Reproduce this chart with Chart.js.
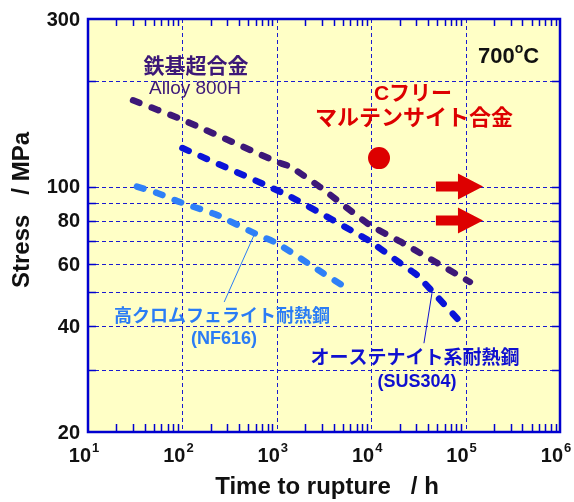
<!DOCTYPE html>
<html>
<head>
<meta charset="utf-8">
<script src="https://cdn.jsdelivr.net/npm/chart.js@4"></script>
<style>
  html, body { margin: 0; padding: 0; background: #fff; }
  #wrap { width: 574px; height: 502px; }
</style>
</head>
<body>
<div id="wrap"><canvas id="rupture"></canvas></div>
<script>
// --- data ---
const alloy800hTime = [30, 100, 1000, 1380, 2870, 9250, 21700, 111000];
const alloy800hStress = [176, 155, 117.6, 114, 99.7, 78.3, 69, 53.5];

const sus304Time = [100, 1283, 9250, 20200, 30500, 45200, 93800];
const sus304Stress = [128.7, 94.6, 70.4, 60.6, 56, 50, 40.4];

const nf616Time = [33, 54, 88, 143, 233, 632, 1000, 3080, 5270];
const nf616Stress = [100, 95.9, 90.9, 86.9, 83, 72.8, 69, 56.7, 51.8];

const cFreeTime = [12100];
const cFreeStress = [120.5];

// arrows: still running
const arrowStress = [100, 80];
const arrowFrom = 48500;
const arrowHead = 83000;
const arrowTo = 153000;

const timeDecades = [1, 2, 3, 4, 5, 6];
const stressGrid = [30, 40, 50, 60, 70, 80, 90, 100, 200];
const stressLabels = [20, 40, 60, 80, 100, 300];

// leader lines [fromTime, fromStress, toTime, toStress]
const nf616Leader = [277, 46.9, 588, 73.8];
const sus304Leader = [36200, 35.8, 44000, 49.7];

const FONT = '"Liberation Sans", Arial, "Noto Sans CJK JP", sans-serif';
const GRID_BLUE = '#1a1ad0';
const FRAME_BLUE = '#0000d0';

function pts(xs, ys) {
    return xs.map((x, i) => ({ x: x, y: ys[i] }));
}

const chartPlugin = {
    id: 'ruptureDeco',
    beforeDatasetsDraw(chart) {
        const { ctx, chartArea: a, scales } = chart;
        const x = scales.x, y = scales.y;
        ctx.save();
        ctx.fillStyle = '#ffffc6';
        ctx.fillRect(a.left, a.top, a.right - a.left, a.bottom - a.top);

        // dashed grid
        ctx.strokeStyle = GRID_BLUE;
        ctx.lineWidth = 1;
        ctx.setLineDash([4, 3]);
        stressGrid.forEach(v => {
            const py = Math.round(y.getPixelForValue(v)) + 0.5;
            ctx.beginPath(); ctx.moveTo(a.left, py); ctx.lineTo(a.right, py); ctx.stroke();
        });
        timeDecades.slice(1, -1).forEach(d => {
            const px = Math.round(x.getPixelForValue(Math.pow(10, d))) + 0.5;
            ctx.beginPath(); ctx.moveTo(px, a.top); ctx.lineTo(px, a.bottom); ctx.stroke();
        });
        ctx.setLineDash([]);

        // minor ticks inward on top/bottom
        ctx.lineWidth = 1.5;
        ctx.strokeStyle = FRAME_BLUE;
        for (let d = 1; d < 6; d++) {
            for (let m = 2; m <= 9; m++) {
                const px = Math.round(x.getPixelForValue(m * Math.pow(10, d))) + 0.5;
                ctx.beginPath();
                ctx.moveTo(px, a.bottom); ctx.lineTo(px, a.bottom - 8);
                ctx.moveTo(px, a.top); ctx.lineTo(px, a.top + 7);
                ctx.stroke();
            }
        }
        // left/right ticks
        stressGrid.forEach(v => {
            const py = Math.round(y.getPixelForValue(v)) + 0.5;
            ctx.beginPath();
            ctx.moveTo(a.left, py); ctx.lineTo(a.left + 8, py);
            ctx.moveTo(a.right, py); ctx.lineTo(a.right - 8, py);
            ctx.stroke();
        });
        ctx.restore();
    },
    afterDatasetsDraw(chart) {
        const { ctx, chartArea: a, scales } = chart;
        const x = scales.x, y = scales.y;
        ctx.save();

        // red arrows
        ctx.fillStyle = '#dd0000';
        arrowStress.forEach(s => {
            const py = y.getPixelForValue(s);
            const x0 = x.getPixelForValue(arrowFrom);
            const xh = x.getPixelForValue(arrowHead);
            const x1 = x.getPixelForValue(arrowTo);
            ctx.beginPath();
            ctx.moveTo(x0, py - 5); ctx.lineTo(xh, py - 5); ctx.lineTo(xh, py - 13);
            ctx.lineTo(x1, py); ctx.lineTo(xh, py + 13); ctx.lineTo(xh, py + 5);
            ctx.lineTo(x0, py + 5); ctx.closePath(); ctx.fill();
        });

        // leader lines
        ctx.lineWidth = 1;
        [[nf616Leader, '#2a7cf5'], [sus304Leader, '#1010d0']].forEach(([l, c]) => {
            ctx.strokeStyle = c;
            ctx.beginPath();
            ctx.moveTo(x.getPixelForValue(l[0]), y.getPixelForValue(l[1]));
            ctx.lineTo(x.getPixelForValue(l[2]), y.getPixelForValue(l[3]));
            ctx.stroke();
        });

        // frame
        ctx.strokeStyle = FRAME_BLUE;
        ctx.lineWidth = 2.5;
        ctx.strokeRect(a.left, a.top, a.right - a.left, a.bottom - a.top);

        // y tick labels
        ctx.fillStyle = '#111';
        ctx.font = 'bold 20px ' + FONT;
        ctx.textAlign = 'right';
        ctx.textBaseline = 'middle';
        stressLabels.forEach(v => {
            ctx.fillText(String(v), a.left - 8, y.getPixelForValue(v) + 1);
        });

        // x tick labels 10^n
        ctx.textBaseline = 'alphabetic';
        timeDecades.forEach(d => {
            const px = x.getPixelForValue(Math.pow(10, d));
            ctx.font = 'bold 20px ' + FONT;
            ctx.textAlign = 'right';
            ctx.fillText('10', px + 3, 462);
            ctx.font = 'bold 13px ' + FONT;
            ctx.textAlign = 'left';
            ctx.fillText(String(d), px + 4, 452);
        });

        // axis titles
        ctx.font = 'bold 24px ' + FONT;
        ctx.textAlign = 'center';
        ctx.fillText('Time to rupture   / h', 327, 494);
        ctx.save();
        ctx.translate(29, 210);
        ctx.rotate(-Math.PI / 2);
        ctx.textBaseline = 'alphabetic';
        ctx.fillText('Stress   / MPa', 0, 0);
        ctx.restore();

        // annotations
        ctx.textBaseline = 'middle';
        ctx.textAlign = 'center';
        ctx.fillStyle = '#3d1878';
        ctx.font = 'bold 21px ' + FONT;
        ctx.fillText('鉄基超合金', 196, 67);
        ctx.font = '19px ' + FONT;
        ctx.fillText('Alloy 800H', 195, 89);

        ctx.fillStyle = '#dd0000';
        ctx.font = 'bold 21px ' + FONT;
        ctx.fillText('Cフリー', 413, 94);
        ctx.font = 'bold 22px ' + FONT;
        ctx.fillText('マルテンサイト合金', 414, 119);

        ctx.fillStyle = '#111';
        ctx.textAlign = 'left';
        ctx.font = 'bold 22px ' + FONT;
        ctx.fillText('700', 478, 57);
        const w700 = ctx.measureText('700').width;
        ctx.font = 'bold 14px ' + FONT;
        ctx.fillText('o', 478 + w700, 49);
        const wo = ctx.measureText('o').width;
        ctx.font = 'bold 22px ' + FONT;
        ctx.fillText('C', 478 + w700 + wo, 57);

        ctx.textAlign = 'center';
        ctx.fillStyle = '#2a7cf5';
        ctx.font = 'bold 18px ' + FONT;
        ctx.fillText('高クロムフェライト耐熱鋼', 222, 317);
        ctx.font = 'bold 18px ' + FONT;
        ctx.fillText('(NF616)', 224, 339);

        ctx.fillStyle = '#1010d0';
        ctx.font = 'bold 19px ' + FONT;
        ctx.fillText('オーステナイト系耐熱鋼', 415, 359);
        ctx.font = 'bold 18px ' + FONT;
        ctx.fillText('(SUS304)', 417, 382);

        ctx.restore();
    }
};

function dashed(label, data, color) {
    return {
        label: label, data: data, borderColor: color, backgroundColor: color,
        borderWidth: 6.5, borderDash: [7, 13], borderCapStyle: 'round',
        pointRadius: 0, tension: 0.15, fill: false
    };
}

const ctx = document.getElementById('rupture').getContext('2d');
new Chart(ctx, {
    type: 'line',
    data: {
        datasets: [
            dashed('Alloy 800H', pts(alloy800hTime, alloy800hStress), '#3d1878'),
            dashed('SUS304', pts(sus304Time, sus304Stress), '#0a14d8'),
            dashed('NF616', pts(nf616Time, nf616Stress), '#2f80f7'),
            {
                label: 'Cフリーマルテンサイト合金', data: pts(cFreeTime, cFreeStress),
                showLine: false, pointRadius: 11, pointBackgroundColor: '#dd0000',
                pointBorderColor: '#dd0000', pointBorderWidth: 0
            }
        ]
    },
    options: {
        responsive: true, maintainAspectRatio: false, animation: false,
        layout: { padding: { left: 88, right: 14, top: 19, bottom: 70 } },
        plugins: { legend: { display: false }, tooltip: { enabled: false } },
        scales: {
            x: {
                type: 'logarithmic', min: 10, max: 1e6,
                ticks: { display: false }, grid: { display: false, drawTicks: false },
                border: { display: false }
            },
            y: {
                type: 'logarithmic', min: 20, max: 300,
                ticks: { display: false }, grid: { display: false, drawTicks: false },
                border: { display: false }
            }
        }
    },
    plugins: [chartPlugin]
});
</script>
</body>
</html>
